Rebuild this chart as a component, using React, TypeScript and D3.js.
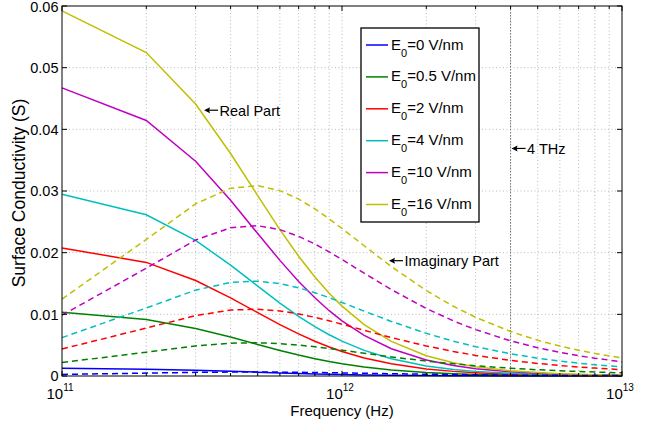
import React, { useEffect, useRef } from 'react';
import * as d3 from 'd3';

// frequency samples (Hz)
const freqs = [1e11, 2e11, 3e11, 4e11, 5e11, 6e11, 7e11, 8e11, 9e11, 1e12, 1.2e12, 1.5e12, 2e12, 2.5e12, 3e12, 4e12, 5e12, 6e12, 7e12, 8e12, 1e13];

const fieldLabels = ["0", "0.5", "2", "4", "10", "16"];
const colors = ["#0000ff", "#008000", "#ff0000", "#00bfbf", "#bf00bf", "#bfbf00"];

// real part (S)
const realE0 = [0.00124, 0.0011, 0.00093, 0.00076, 0.00062, 0.0005, 0.00041, 0.00034, 0.00028, 0.00024, 0.00018, 0.00012, 0.00007, 0.00005, 0.00003, 0.00002, 0.00001, 0.00001, 0.00001, 0.00001, 0.00001];
const realE05 = [0.01034, 0.00917, 0.00771, 0.00631, 0.00511, 0.00415, 0.00339, 0.00281, 0.00234, 0.00198, 0.00146, 0.00098, 0.00057, 0.00037, 0.00026, 0.00015, 0.0001, 0.00007, 0.00005, 0.00004, 0.00002];
const realE2 = [0.02077, 0.01842, 0.01549, 0.01267, 0.01027, 0.00834, 0.00682, 0.00564, 0.00471, 0.00398, 0.00293, 0.00197, 0.00115, 0.00075, 0.00053, 0.0003, 0.00019, 0.00013, 0.0001, 0.00008, 0.00005];
const realE4 = [0.02948, 0.02615, 0.02199, 0.01798, 0.01458, 0.01183, 0.00968, 0.008, 0.00669, 0.00565, 0.00415, 0.00279, 0.00164, 0.00107, 0.00075, 0.00043, 0.00027, 0.00019, 0.00014, 0.00011, 0.00007];
const realE10 = [0.04672, 0.04143, 0.03483, 0.02849, 0.0231, 0.01875, 0.01534, 0.01268, 0.01059, 0.00895, 0.00658, 0.00443, 0.0026, 0.00169, 0.00119, 0.00067, 0.00043, 0.0003, 0.00022, 0.00017, 0.00011];
const realE16 = [0.0592, 0.05246, 0.04411, 0.03608, 0.02925, 0.02374, 0.01942, 0.01606, 0.01342, 0.01133, 0.00834, 0.00561, 0.00329, 0.00214, 0.0015, 0.00085, 0.00055, 0.00038, 0.00028, 0.00022, 0.00014];

// imaginary part (S)
const imagE0 = [0.00026, 0.00047, 0.00059, 0.00064, 0.00065, 0.00063, 0.0006, 0.00057, 0.00054, 0.0005, 0.00044, 0.00037, 0.00029, 0.00024, 0.0002, 0.00015, 0.00012, 0.0001, 0.00009, 0.00008, 0.00006];
const imagE05 = [0.00218, 0.00387, 0.00488, 0.00532, 0.00539, 0.00525, 0.00501, 0.00474, 0.00445, 0.00418, 0.00369, 0.0031, 0.00242, 0.00198, 0.00166, 0.00126, 0.00101, 0.00085, 0.00073, 0.00064, 0.00051];
const imagE2 = [0.00438, 0.00777, 0.0098, 0.01069, 0.01083, 0.01055, 0.01007, 0.00952, 0.00895, 0.0084, 0.00741, 0.00623, 0.00487, 0.00397, 0.00334, 0.00253, 0.00204, 0.0017, 0.00146, 0.00128, 0.00103];
const imagE4 = [0.00622, 0.01103, 0.01392, 0.01518, 0.01538, 0.01498, 0.0143, 0.01351, 0.0127, 0.01192, 0.01052, 0.00885, 0.00691, 0.00564, 0.00475, 0.0036, 0.00289, 0.00242, 0.00208, 0.00182, 0.00146];
const imagE10 = [0.00986, 0.01748, 0.02205, 0.02404, 0.02437, 0.02374, 0.02265, 0.0214, 0.02012, 0.01889, 0.01667, 0.01402, 0.01095, 0.00893, 0.00752, 0.0057, 0.00458, 0.00383, 0.00329, 0.00288, 0.00231];
const imagE16 = [0.01248, 0.02214, 0.02792, 0.03045, 0.03086, 0.03006, 0.02869, 0.02711, 0.02548, 0.02392, 0.02112, 0.01775, 0.01386, 0.01131, 0.00952, 0.00722, 0.0058, 0.00485, 0.00417, 0.00365, 0.00292];

const yTicks = [0, 0.01, 0.02, 0.03, 0.04, 0.05, 0.06];
const yTickLabels = ["0", "0.01", "0.02", "0.03", "0.04", "0.05", "0.06"];
const xMajor = [1e11, 1e12, 1e13];
const xMajorExp = ["11", "12", "13"];
const markerFreq = 4e12;

const W = 662, H = 432;
const FONT = "'Liberation Sans', Arial, Helvetica, sans-serif";

const App = () => {
    const svgRef = useRef(null);

    useEffect(() => {
        const svg = d3.select(svgRef.current);
        svg.selectAll("*").remove();

        const x = d3.scaleLog().domain([1e11, 1e13]).range([62, 622]);
        const y = d3.scaleLinear().domain([0, 0.06]).range([376, 6]);
        const [x0, x1] = x.range();
        const [yb, yt] = y.range();

        svg.append("rect").attr("width", W).attr("height", H).attr("fill", "#fff");

        // minor x positions
        const minor: number[] = [];
        [1e11, 1e12].forEach(d => { for (let k = 2; k <= 9; k++) minor.push(d * k); });

        const grid = svg.append("g").attr("stroke", "#a8a8a8").attr("stroke-width", 0.8).attr("stroke-dasharray", "1,2.5");
        yTicks.slice(1, -1).forEach(v => {
            grid.append("line").attr("x1", x0).attr("x2", x1).attr("y1", y(v)).attr("y2", y(v));
        });
        [...minor, 1e12].forEach(f => {
            grid.append("line").attr("x1", x(f)).attr("x2", x(f)).attr("y1", yt).attr("y2", yb);
        });

        // 4 THz marker
        svg.append("line")
            .attr("x1", x(markerFreq)).attr("x2", x(markerFreq))
            .attr("y1", yt).attr("y2", yb)
            .attr("stroke", "#777").attr("stroke-width", 1).attr("stroke-dasharray", "1.5,1.5");

        const realSeries = [realE0, realE05, realE2, realE4, realE10, realE16];
        const imagSeries = [imagE0, imagE05, imagE2, imagE4, imagE10, imagE16];

        const line = d3.line<number>()
            .x((_, i) => x(freqs[i]))
            .y(d => y(d));

        realSeries.forEach((s, i) => {
            svg.append("path").attr("d", line(s)).attr("fill", "none")
                .attr("stroke", colors[i]).attr("stroke-width", 1.5);
        });
        imagSeries.forEach((s, i) => {
            svg.append("path").attr("d", line(s)).attr("fill", "none")
                .attr("stroke", colors[i]).attr("stroke-width", 1.5)
                .attr("stroke-dasharray", "6,4");
        });

        // axes box + ticks
        svg.append("rect").attr("x", x0).attr("y", yt).attr("width", x1 - x0).attr("height", yb - yt)
            .attr("fill", "none").attr("stroke", "#000").attr("stroke-width", 1);

        const ticks = svg.append("g").attr("stroke", "#000").attr("stroke-width", 1);
        yTicks.forEach(v => {
            ticks.append("line").attr("x1", x0).attr("x2", x0 + 5).attr("y1", y(v)).attr("y2", y(v));
            ticks.append("line").attr("x1", x1).attr("x2", x1 - 5).attr("y1", y(v)).attr("y2", y(v));
        });
        xMajor.forEach(f => {
            ticks.append("line").attr("x1", x(f)).attr("x2", x(f)).attr("y1", yb).attr("y2", yb - 5);
            ticks.append("line").attr("x1", x(f)).attr("x2", x(f)).attr("y1", yt).attr("y2", yt + 5);
        });
        minor.forEach(f => {
            ticks.append("line").attr("x1", x(f)).attr("x2", x(f)).attr("y1", yb).attr("y2", yb - 3);
            ticks.append("line").attr("x1", x(f)).attr("x2", x(f)).attr("y1", yt).attr("y2", yt + 3);
        });

        // tick labels
        yTicks.forEach((v, i) => {
            svg.append("text").attr("x", 58.5).attr("y", Math.max(y(v), 7)).attr("dy", "0.36em")
                .attr("text-anchor", "end").attr("font-family", FONT).attr("font-size", 14.5)
                .text(yTickLabels[i]);
        });
        xMajor.forEach((f, i) => {
            const t = svg.append("text").attr("x", x(f) - 2).attr("y", 399)
                .attr("text-anchor", "middle").attr("font-family", FONT).attr("font-size", 15);
            t.append("tspan").text("10");
            t.append("tspan").attr("font-size", 10).attr("dy", -8).text(xMajorExp[i]);
        });

        // axis labels
        svg.append("text").attr("x", (x0 + x1) / 2).attr("y", 416)
            .attr("text-anchor", "middle").attr("font-family", FONT).attr("font-size", 15)
            .text("Frequency (Hz)");
        svg.append("text").attr("transform", `translate(25, ${(yt + yb) / 2 + 2}) rotate(-90)`)
            .attr("text-anchor", "middle").attr("font-family", FONT).attr("font-size", 17.5)
            .text("Surface Conductivity (S)");

        // legend
        const lg = svg.append("g");
        lg.append("rect").attr("x", 361).attr("y", 28).attr("width", 118).attr("height", 194)
            .attr("fill", "#fff").attr("stroke", "#000").attr("stroke-width", 1.3);
        fieldLabels.forEach((lab, i) => {
            const ly = 45 + i * 31.9;
            lg.append("line").attr("x1", 366).attr("x2", 388).attr("y1", ly).attr("y2", ly)
                .attr("stroke", colors[i]).attr("stroke-width", 1.5);
            const t = lg.append("text").attr("x", 391).attr("y", ly + 4.5)
                .attr("font-family", FONT).attr("font-size", 15);
            t.append("tspan").text("E");
            t.append("tspan").attr("font-size", 11).attr("dy", 7).text("0");
            t.append("tspan").attr("dy", -7).text(`=${lab} V/nm`);
        });

        // annotations
        const notes = [
            { fx: 3.19e11, v: 0.0431, text: "Real Part" },
            { fx: 1.46e12, v: 0.0187, text: "Imaginary Part" },
            { fx: markerFreq, v: 0.0369, text: "4 THz" }
        ];
        notes.forEach(n => {
            const ax = x(n.fx) + 1, ay = y(n.v);
            const g = svg.append("g");
            g.append("line").attr("x1", ax + 3).attr("x2", ax + 14).attr("y1", ay).attr("y2", ay)
                .attr("stroke", "#000").attr("stroke-width", 1.2);
            g.append("path").attr("d", `M${ax},${ay} L${ax + 6},${ay - 3} L${ax + 5},${ay} L${ax + 6},${ay + 3} Z`)
                .attr("fill", "#000");
            g.append("text").attr("x", ax + 15.5).attr("y", ay + 5.5)
                .attr("font-family", FONT).attr("font-size", 14.5).text(n.text);
        });
    }, []);

    return (
        <div style={{ position: "fixed", left: 0, top: 0 }}>
            <svg ref={svgRef} width={W} height={H} style={{ display: "block" }}></svg>
        </div>
    );
};

export default App;
